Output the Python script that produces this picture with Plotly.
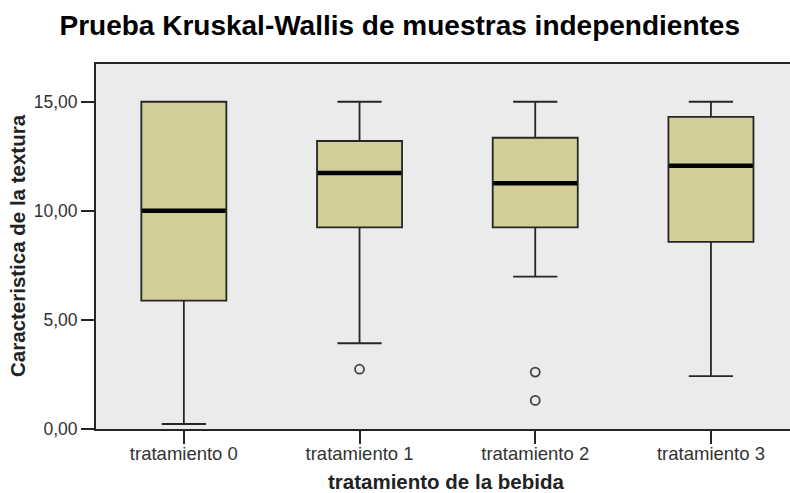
import plotly.graph_objects as go

categories = ["tratamiento 0", "tratamiento 1", "tratamiento 2", "tratamiento 3"]
q1 = [5.88, 9.24, 9.24, 8.58]
median = [10.0, 11.73, 11.26, 12.07]
q3 = [15.0, 13.2, 13.35, 14.31]
lower_whisker = [0.23, 3.93, 6.98, 2.42]
upper_whisker = [15.0, 15.0, 15.0, 15.0]
outlier_cat = [1, 2, 2]
outlier_val = [2.74, 2.61, 1.31]
y_ticks = [0, 5, 10, 15]

pos = list(range(len(categories)))
BOX_W = 0.484
FONT = "Liberation Sans, Arial, sans-serif"
DARK = "#262626"

fig = go.Figure()
fig.add_trace(go.Box(
    x=pos, q1=q1, median=median, q3=q3,
    lowerfence=lower_whisker, upperfence=upper_whisker,
    width=BOX_W, whiskerwidth=0.52,
    fillcolor="#D3CE97", line=dict(color=DARK, width=1.8),
    showlegend=False, hoverinfo="skip",
))

# thick median lines
mx, my = [], []
for p, m in zip(pos, median):
    mx += [p - BOX_W / 2 + 0.004, p + BOX_W / 2 - 0.004, None]
    my += [m, m, None]
fig.add_trace(go.Scatter(
    x=mx, y=my, mode="lines", line=dict(color="black", width=4.5),
    showlegend=False, hoverinfo="skip",
))

fig.add_trace(go.Scatter(
    x=outlier_cat, y=outlier_val, mode="markers",
    marker=dict(symbol="circle-open", size=9, color="#444444", line=dict(width=1.8)),
    showlegend=False, hoverinfo="skip",
))

fig.update_layout(
    width=790, height=493,
    margin=dict(l=96, r=0, t=64, b=64),
    paper_bgcolor="white", plot_bgcolor="#EBEBEB",
    separators=",.",
    font=dict(family=FONT, color="#333333"),
    title=dict(
        text="<b>Prueba Kruskal-Wallis de muestras independientes</b>",
        x=0.506, xanchor="center", y=1 - 25 / 493, yanchor="middle",
        font=dict(size=28, color="black", family=FONT),
    ),
    xaxis=dict(
        range=[-0.5, 3.45], tickmode="array", tickvals=pos, ticktext=categories,
        ticks="outside", ticklen=13, tickwidth=1.5, tickcolor=DARK,
        showline=True, linecolor=DARK, linewidth=2, mirror=True,
        showgrid=False, zeroline=False, ticklabelstandoff=-6,
        tickfont=dict(size=18.5, color="#333333", family=FONT),
    ),
    yaxis=dict(
        range=[0, 16.73], tickmode="array", tickvals=y_ticks, tickformat=".2f",
        ticks="outside", ticklen=13, tickwidth=1.5, tickcolor=DARK,
        showline=True, linecolor=DARK, linewidth=2,
        showgrid=False, zeroline=False,
        tickfont=dict(size=17.5, color="#333333", family=FONT),
    ),
    annotations=[
        dict(text="<b>tratamiento de la bebida</b>", xref="paper", yref="paper",
             x=(446 - 96) / 694, y=-(481 - 429) / 365, xanchor="center", yanchor="middle",
             showarrow=False, font=dict(size=20.5, color="#222222", family=FONT)),
        dict(text="<b>Caracteristica de la textura</b>", xref="paper", yref="paper",
             x=-(96 - 18) / 694, y=(429 - 246) / 365, xanchor="center", yanchor="middle",
             textangle=-90, showarrow=False,
             font=dict(size=20.5, color="#222222", family=FONT)),
    ],
)

fig.write_html(
    "out.html",
    config={"displayModeBar": False},
    post_script="document.body.style.margin='0';document.body.style.overflow='hidden';",
)
